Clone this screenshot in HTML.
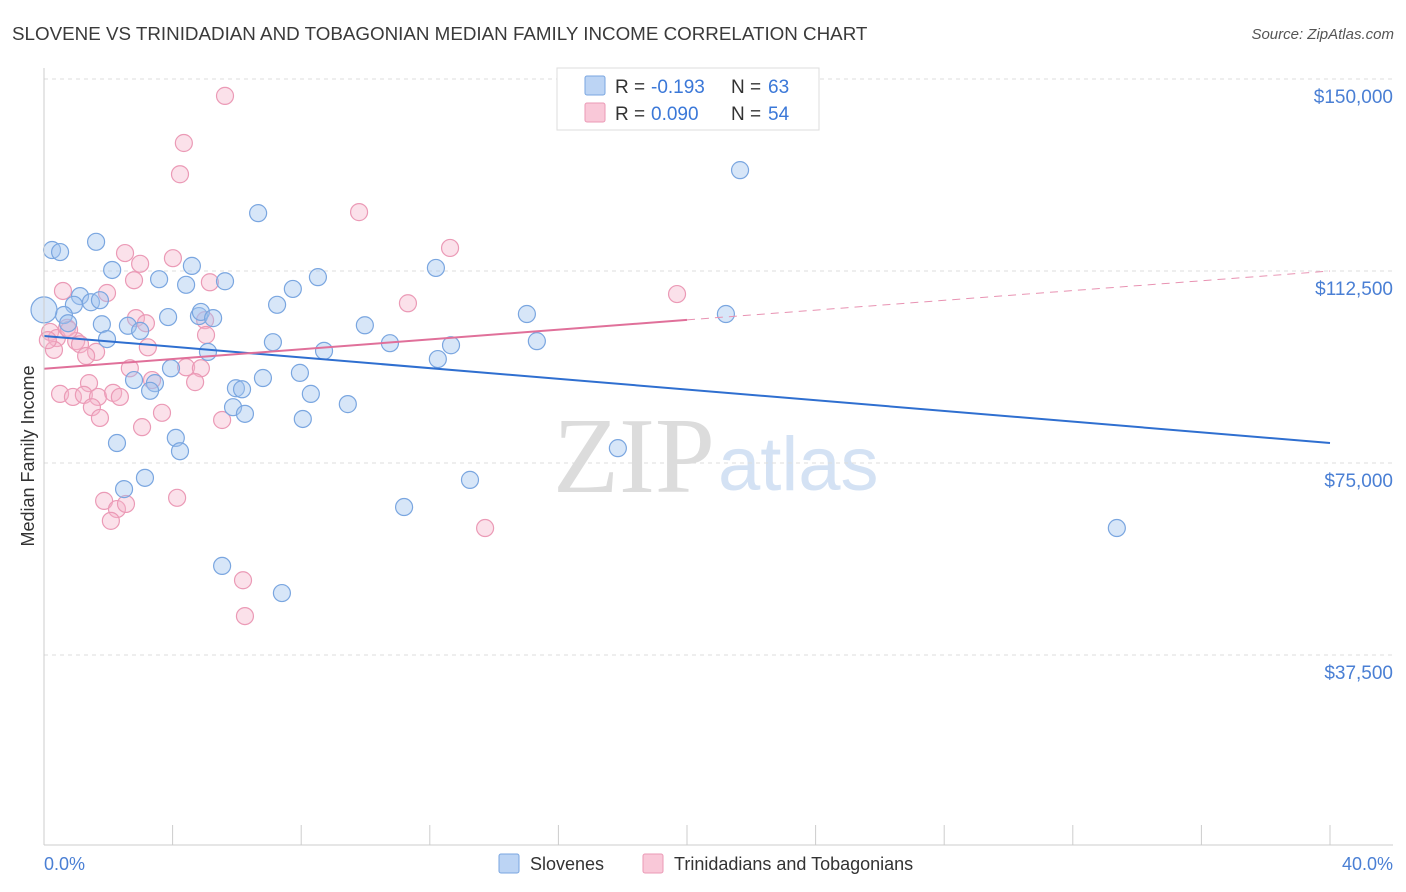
<!DOCTYPE html>
<html><head><meta charset="utf-8"><style>
body{margin:0;background:#fff;font-family:"Liberation Sans",sans-serif;}
#wrap{position:relative;width:1406px;height:892px;overflow:hidden;}
</style></head><body>
<div id="wrap">
<svg id="svg" width="1406" height="892">
<text x="12" y="40" font-size="18.8" fill="#3a3a3a">SLOVENE VS TRINIDADIAN AND TOBAGONIAN MEDIAN FAMILY INCOME CORRELATION CHART</text>
<text x="1394" y="39" font-size="15" fill="#555" font-style="italic" text-anchor="end">Source: ZipAtlas.com</text>
<text x="553" y="492" font-size="108" font-family="Liberation Serif,serif" fill="#dcdcdc">ZIP</text>
<text x="718" y="490" font-size="76" fill="#d4e2f4">atlas</text>
<text transform="translate(34,456) rotate(-90)" font-size="18" fill="#333" text-anchor="middle">Median Family Income</text>
<g id="grid"></g><g id="pts"></g><g id="lines"></g>
<line x1="44" y1="68" x2="44" y2="845" stroke="#ccc"/>
<line x1="44" y1="845" x2="1393" y2="845" stroke="#ccc"/>
<text x="44" y="870" font-size="18" fill="#4a7fd4">0.0%</text>
<text x="1393" y="870" font-size="18" fill="#4a7fd4" text-anchor="end">40.0%</text>
<g>
<rect x="557" y="68" width="262" height="62" fill="#fff" stroke="#ddd"/>
<rect x="585" y="76" width="20" height="19" fill="#bcd4f4" stroke="#7aa6e0" rx="2"/>
<rect x="585" y="103" width="20" height="19" fill="#f9c8d8" stroke="#eb9ab6" rx="2"/>
<text x="615" y="93" font-size="19" fill="#333">R =</text>
<text x="651" y="93" font-size="19" fill="#3b78d8">-0.193</text>
<text x="731" y="93" font-size="19" fill="#333">N =</text>
<text x="768" y="93" font-size="19" fill="#3b78d8">63</text>
<text x="615" y="120" font-size="19" fill="#333">R =</text>
<text x="651" y="120" font-size="19" fill="#3b78d8">0.090</text>
<text x="731" y="120" font-size="19" fill="#333">N =</text>
<text x="768" y="120" font-size="19" fill="#3b78d8">54</text>
</g>
<g>
<rect x="499" y="854" width="20" height="19" fill="#bcd4f4" stroke="#7aa6e0" rx="2"/>
<text x="530" y="870" font-size="18" fill="#333">Slovenes</text>
<rect x="643" y="854" width="20" height="19" fill="#f9c8d8" stroke="#eb9ab6" rx="2"/>
<text x="674" y="870" font-size="18" fill="#333">Trinidadians and Tobagonians</text>
</g>
</svg>
</div>
<script>
const yTicks=[37500,75000,112500,150000];
const yTickLabels=["$37,500","$75,000","$112,500","$150,000"];
const blueX=[0.25,0.5,1.62,2.12,4.6,3.58,4.42,5.63,6.66,8.52,7.74,7.25,12.19,21.65,1.12,1.46,0.93,0.62,0.75,1.8,1.96,2.61,2.99,3.86,4.82,4.88,5.26,5.1,7.12,8.71,9.98,10.76,12.25,12.66,15.02,15.33,21.21,3.95,2.8,3.45,3.3,5.97,6.16,6.81,7.96,8.3,9.45,5.88,6.25,8.05,2.27,4.1,4.23,3.14,2.49,13.25,11.2,17.85,33.37,5.54,7.4,0.0,1.74];
const blueY=[116.6,116.2,118.2,112.7,113.5,110.9,109.8,110.5,123.8,111.3,109.0,105.9,113.1,132.2,107.6,106.4,105.9,103.9,102.3,102.1,99.2,101.8,100.8,103.5,103.7,104.5,103.3,96.7,98.6,96.9,101.9,98.4,95.3,98.0,104.1,98.8,104.1,93.5,91.2,90.6,89.1,89.6,89.4,91.6,92.6,88.5,86.5,85.9,84.6,83.6,78.9,79.9,77.3,72.1,69.9,71.7,66.4,77.9,62.3,54.9,49.6,104.9,106.8];
const pinkX=[5.63,4.35,4.23,9.8,12.63,2.52,2.99,4.01,2.8,1.96,0.59,5.16,11.32,19.69,0.19,0.4,0.72,0.31,1.0,1.12,1.62,1.31,2.86,3.17,3.23,5.01,5.04,2.67,4.42,4.88,3.36,4.7,1.4,0.5,0.9,1.24,1.68,2.15,2.36,1.49,1.74,3.67,5.54,3.05,1.87,2.27,2.55,2.08,4.14,13.72,6.19,6.25,0.78,0.12];
const pinkY=[146.7,137.5,131.4,124.0,117.0,116.0,113.9,115.0,110.7,108.2,108.6,110.3,106.2,108.0,100.6,99.4,101.4,97.1,98.8,98.2,96.7,95.9,103.3,102.3,97.6,102.9,100.0,93.5,93.7,93.5,91.2,90.8,90.6,88.5,87.9,88.3,87.9,88.7,87.9,85.9,83.8,84.8,83.4,82.0,67.6,66.0,67.0,63.7,68.2,62.3,52.1,45.1,101.0,99.0];
const blueTrend=[99.8,78.9];
const pinkTrend=[93.4,112.5];
const pinkSolidEnd=20;
const NS="http://www.w3.org/2000/svg";
function sx(p){return 44+p/40*1286;}
function sy(k){return 847-k/37.5*192;}
function mk(t,a,parent){const e=document.createElementNS(NS,t);for(const k in a)e.setAttribute(k,a[k]);parent.appendChild(e);return e;}
const grid=document.getElementById('grid');
yTicks.forEach((v,i)=>{
 const l=mk('line',{x1:44,x2:1393,y1:sy(v/1000),y2:sy(v/1000),stroke:'#ddd','stroke-dasharray':'4,4'},grid);
 
 
 const t=mk('text',{x:1393,y:sy(v/1000)+24,'font-size':19,fill:'#4a7fd4','text-anchor':'end'},grid);
 t.textContent=yTickLabels[i];
 
 
});
for(let i=1;i<=10;i++){
 const l=mk('line',{x1:sx(i*4),x2:sx(i*4),y1:825,y2:845,stroke:'#ccc'},grid);
 
 
}
const pts=document.getElementById('pts');
pinkX.forEach((x,i)=>{
 const c=mk('circle',{cx:sx(x),cy:sy(pinkY[i]),r:8.5,fill:'rgba(246,180,202,0.4)',stroke:'#eb9ab6','stroke-width':1.2},pts);
 
 
});
blueX.forEach((x,i)=>{
 const c=mk('circle',{cx:sx(x),cy:sy(blueY[i]),r:(i==61?13:8.5),fill:'rgba(160,195,238,0.42)',stroke:'#7aa6e0','stroke-width':1.2},pts);
 
 
});
const lines=document.getElementById('lines');
const bl=mk('line',{x1:sx(0),y1:sy(blueTrend[0]),x2:sx(40),y2:sy(blueTrend[1]),stroke:'#2f6fd0','stroke-width':2},lines);


const pm=pinkTrend[0]+(pinkTrend[1]-pinkTrend[0])*pinkSolidEnd/40;
const pl=mk('line',{x1:sx(0),y1:sy(pinkTrend[0]),x2:sx(pinkSolidEnd),y2:sy(pm),stroke:'#e0709a','stroke-width':2},lines);


const pd=mk('line',{x1:sx(pinkSolidEnd),y1:sy(pm),x2:sx(40),y2:sy(pinkTrend[1]),stroke:'#e892b2','stroke-width':1,'stroke-dasharray':'8,6'},lines);


</script>
</body></html>
